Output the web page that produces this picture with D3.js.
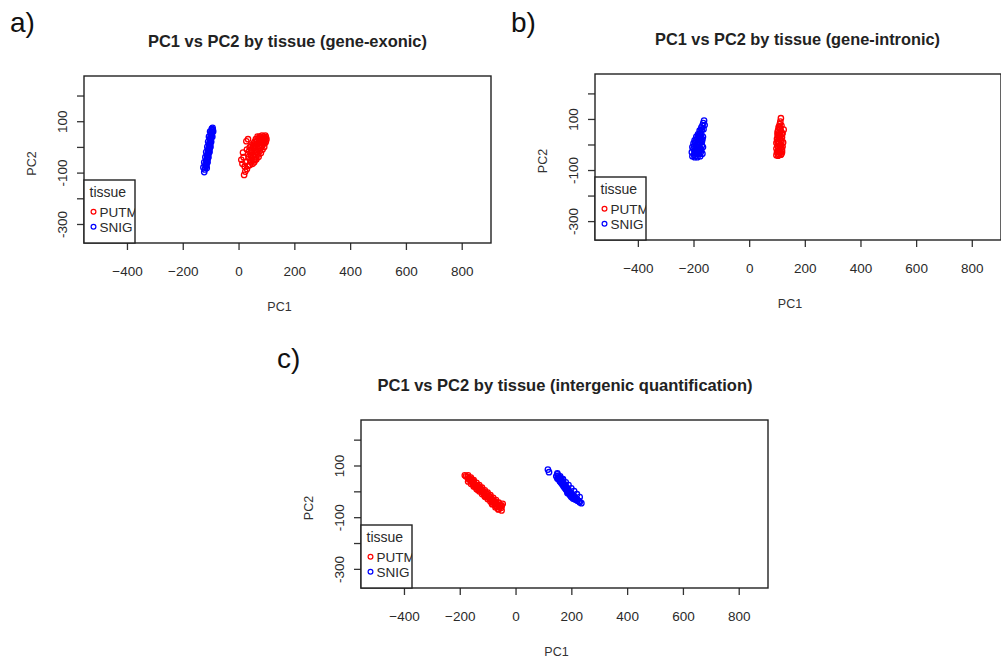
<!DOCTYPE html>
<html>
<head>
<meta charset="utf-8">
<script src="https://cdn.jsdelivr.net/npm/d3@7.9.0/dist/d3.min.js"></script>
<style>
  html, body { margin: 0; padding: 0; background: #fff; }
  svg { display: block; font-family: "Liberation Sans", Arial, sans-serif; }
  .tick line { stroke: #333; stroke-width: 1.3; }
  .tick text { fill: #2a2a2a; font-size: 13.5px; }
</style>
</head>
<body>
<svg id="chart" width="1001" height="664"></svg>
<script>
// ---- data ----
const xTicks = [-400, -200, 0, 200, 400, 600, 800];
const yTicks = [-300, -200, -100, 0, 100, 200];
const yLabelled = [-300, -100, 100];   // R drops the overlapping ones
const tissues = ['PUTM', 'SNIG'];
const tissueColors = ['#ff0000', '#0000ff'];
const panelTags = ['a)', 'b)', 'c)'];
const titles = [
  'PC1 vs PC2 by tissue (gene-exonic)',
  'PC1 vs PC2 by tissue (gene-intronic)',
  'PC1 vs PC2 by tissue (intergenic quantification)'
];

const exonicPUTM = [
  [20,-109], [24,-96], [30,-86], [14,-66], [10,-50], [18,-40], [16,-22], [30,-10], [28,22], [34,30],
  [40,-70], [45,-60], [50,-66], [42,-50], [48,-44], [55,-52], [52,-36], [58,-30], [62,-40], [50,-20],
  [60,-14], [66,-22], [56,-4], [64,0], [70,-8], [60,10], [68,14], [74,4], [66,24], [74,26],
  [80,16], [72,34], [80,36], [86,30], [90,40], [94,34], [98,38], [84,22], [88,10], [78,-2],
  [44,-30], [34,-28], [46,-12], [52,4], [40,-2], [58,20], [92,26], [70,-30], [76,-16], [82,2],
  [96,44], [100,30], [90,18], [96,16], [84,44], [76,40], [62,30], [54,14], [46,6], [38,-16],
  [36,-40], [44,-56], [56,-60], [64,-48], [72,-38], [80,-24], [86,-10], [92,0], [98,22], [68,40],
  [60,-50], [26,-60], [22,-76], [34,-74]
];
const exonicSNIG = [
  [-123,-98], [-121,-88], [-119,-80], [-116,-74], [-118,-66], [-114,-60], [-116,-54], [-112,-50],
  [-113,-42], [-110,-38], [-112,-32], [-108,-28], [-110,-22], [-106,-18], [-108,-12], [-104,-8],
  [-106,-2], [-103,4], [-105,8], [-101,12], [-103,18], [-100,22], [-102,28], [-99,32], [-101,36],
  [-97,40], [-99,44], [-96,48], [-98,52], [-95,56], [-97,60], [-95,64], [-96,70], [-110,-44],
  [-104,14], [-100,30], [-107,-6], [-115,-70], [-98,46], [-102,0],
  [-126,-80], [-114,-82], [-123,-60], [-111,-60], [-119,-40], [-108,-40], [-116,-20], [-104,-20],
  [-112,0], [-101,0], [-109,20], [-98,20], [-106,40], [-94,40], [-102,60], [-91,60], [-92,66], [-93,74]
];

const intronicPUTM = [
  [114,103], [112,90], [110,80], [116,74], [106,68], [112,62], [104,56], [114,52], [108,46], [120,44],
  [102,38], [112,36], [106,30], [118,28], [100,22], [110,20], [104,14], [116,12], [122,8], [98,6],
  [108,4], [114,-2], [102,-6], [120,-8], [106,-12], [98,-16], [112,-18], [104,-24], [118,-22], [100,-30],
  [110,-32], [106,-38], [98,-42], [114,-40], [104,-44], [124,58], [118,-30], [102,48], [110,62], [116,-12],
  [108,-26], [114,18], [104,32], [118,40], [110,-6], [102,10], [116,-36], [108,70]
];
const intronicSNIG = [
  [-162,94], [-165,84], [-168,74], [-172,66], [-170,58], [-175,50], [-178,42], [-172,40], [-182,34],
  [-176,30], [-186,26], [-180,20], [-172,18], [-190,16], [-184,10], [-176,8], [-194,6], [-188,0],
  [-180,-2], [-170,-4], [-198,-6], [-192,-10], [-184,-12], [-176,-14], [-200,-18], [-194,-22],
  [-186,-24], [-178,-26], [-196,-32], [-188,-36], [-180,-38], [-192,-44], [-186,-50], [-198,-40],
  [-172,-20], [-170,10], [-166,30], [-174,-30], [-190,-28], [-182,-8],
  [-206,-30], [-204,-10], [-200,4], [-196,16], [-190,30], [-184,40], [-178,54], [-164,60], [-160,76],
  [-168,20], [-166,-10], [-168,-36], [-176,-46], [-196,-50], [-204,-46]
];

const intergenicPUTM = [
  [-182,62], [-178,58], [-172,56], [-170,50], [-166,46], [-162,48], [-160,40], [-156,42], [-154,34],
  [-150,38], [-148,30], [-144,26], [-146,20], [-140,24], [-138,16], [-134,20], [-132,10], [-128,14],
  [-126,4], [-122,8], [-120,-2], [-118,4], [-114,-6], [-112,-12], [-108,-4], [-106,-16], [-102,-10],
  [-100,-22], [-96,-18], [-94,-28], [-90,-22], [-88,-34], [-84,-30], [-80,-42], [-78,-36], [-74,-48],
  [-70,-42], [-68,-56], [-64,-50], [-60,-60], [-56,-54], [-52,-64], [-50,-58], [-72,-62], [-84,-50],
  [-110,-20], [-136,6], [-152,26], [-62,-70], [-46,-48],
  [-170,62], [-170,38], [-160,53], [-160,29], [-150,43], [-150,19], [-140,33], [-140,9],
  [-130,24], [-130,0], [-120,14], [-120,-10], [-110,4], [-110,-20], [-100,-5], [-100,-30],
  [-90,-15], [-90,-39], [-80,-25], [-80,-49], [-70,-34], [-70,-58], [-60,-44], [-60,-68],
  [-50,-54], [-50,-74]
];
const intergenicSNIG = [
  [116,84], [120,74], [150,66], [146,58], [154,60], [152,50], [158,52], [156,44], [162,46], [160,38],
  [166,40], [164,32], [170,34], [168,26], [174,28], [172,20], [178,22], [176,14], [182,16], [180,8],
  [186,10], [184,2], [190,4], [188,-4], [194,-2], [192,-10], [198,-8], [196,-16], [202,-14], [200,-22],
  [206,-20], [206,-28], [212,-24], [214,-32], [220,-30], [222,-36], [228,-38], [236,-46], [170,44], [186,-6],
  [150,70], [150,50], [160,58], [160,38], [170,47], [170,27], [180,35], [180,15], [190,24], [190,4],
  [200,12], [200,-8], [210,1], [210,-19], [220,-11], [220,-31], [230,-22], [230,-42]
];

// ---- layout ----
const xDomain = [-554, 905];
const yDomain = [-374, 276];

const panels = [
  { box: { l: 84, t: 76, r: 491, b: 243 }, tag: [10, 32], title: [287.5, 47], titleW: 279,
    series: [exonicPUTM, exonicSNIG] },
  { box: { l: 595, t: 74, r: 1001, b: 240 }, tag: [511, 32], title: [797.5, 45], titleW: 285,
    series: [intronicPUTM, intronicSNIG] },
  { box: { l: 361, t: 420, r: 768, b: 588 }, tag: [277, 368], title: [565, 391], titleW: 375,
    series: [intergenicPUTM, intergenicSNIG] }
];

const svg = d3.select('#chart');
const ink = '#222';

panels.forEach((p, pi) => {
  const { l, t, r, b } = p.box;
  const x = d3.scaleLinear().domain(xDomain).range([l, r]);
  const y = d3.scaleLinear().domain(yDomain).range([b, t]);
  const g = svg.append('g');

  // panel tag a) b) c)
  g.append('text')
    .attr('x', p.tag[0]).attr('y', p.tag[1])
    .attr('font-size', 28).attr('fill', '#111')
    .text(panelTags[pi]);

  // title
  g.append('text')
    .attr('x', p.title[0]).attr('y', p.title[1])
    .attr('text-anchor', 'middle')
    .attr('font-size', 17).attr('font-weight', 'bold').attr('fill', ink)
    .attr('textLength', p.titleW).attr('lengthAdjust', 'spacingAndGlyphs')
    .text(titles[pi]);

  // x axis
  const gx = g.append('g')
    .attr('transform', `translate(0,${b})`)
    .call(d3.axisBottom(x).tickValues(xTicks).tickSize(7).tickFormat(d3.format('d')));
  gx.select('.domain').remove();
  gx.selectAll('.tick text').attr('y', 33).attr('dy', 0);

  // y axis
  const gy = g.append('g')
    .attr('transform', `translate(${l},0)`)
    .call(d3.axisLeft(y).tickValues(yTicks).tickSize(7)
      .tickFormat(d => (yLabelled.includes(d) ? d : '')));
  gy.select('.domain').remove();
  gy.selectAll('.tick text')
    .attr('transform', 'rotate(-90)')
    .attr('x', 0).attr('y', -17).attr('dy', 0)
    .attr('text-anchor', 'middle');

  // axis titles
  g.append('text')
    .attr('x', (l + r) / 2 - 8).attr('y', b + 68)
    .attr('text-anchor', 'middle').attr('font-size', 12.5).attr('fill', '#333')
    .text('PC1');
  g.append('text')
    .attr('transform', `translate(${l - 48},${(t + b) / 2 + 4}) rotate(-90)`)
    .attr('text-anchor', 'middle').attr('font-size', 12.5).attr('fill', '#333')
    .text('PC2');

  // points
  p.series.forEach((pts, si) => {
    g.append('g').selectAll('circle')
      .data(pts)
      .join('circle')
      .attr('cx', d => x(d[0]))
      .attr('cy', d => y(d[1]))
      .attr('r', 2.7)
      .attr('fill', 'none')
      .attr('stroke', tissueColors[si])
      .attr('stroke-width', 1.3);
  });

  // plot box
  g.append('rect')
    .attr('x', l).attr('y', t).attr('width', r - l).attr('height', b - t)
    .attr('fill', 'none').attr('stroke', ink).attr('stroke-width', 1.4);

  // legend
  const lw = 51, lh = 63;
  const lg = g.append('g').attr('transform', `translate(${l},${b - lh})`);
  const clipId = `legclip${pi}`;
  lg.append('clipPath').attr('id', clipId)
    .append('rect').attr('width', lw).attr('height', lh);
  lg.append('rect').attr('width', lw).attr('height', lh).attr('fill', '#fff');
  const inner = lg.append('g').attr('clip-path', `url(#${clipId})`);
  inner.append('text')
    .attr('x', 5.5).attr('y', 16.5)
    .attr('font-size', 14).attr('fill', '#2a2a2a')
    .text('tissue');
  tissues.forEach((name, i) => {
    inner.append('circle')
      .attr('cx', 9.5).attr('cy', 31.7 + i * 15)
      .attr('r', 2.4).attr('fill', 'none')
      .attr('stroke', tissueColors[i]).attr('stroke-width', 1.2);
    inner.append('text')
      .attr('x', 15.5).attr('y', 36.5 + i * 15)
      .attr('font-size', 13.5).attr('fill', '#2a2a2a')
      .text(name);
  });
  lg.append('rect').attr('width', lw).attr('height', lh)
    .attr('fill', 'none').attr('stroke', ink).attr('stroke-width', 1.4);
});
</script>
</body>
</html>
